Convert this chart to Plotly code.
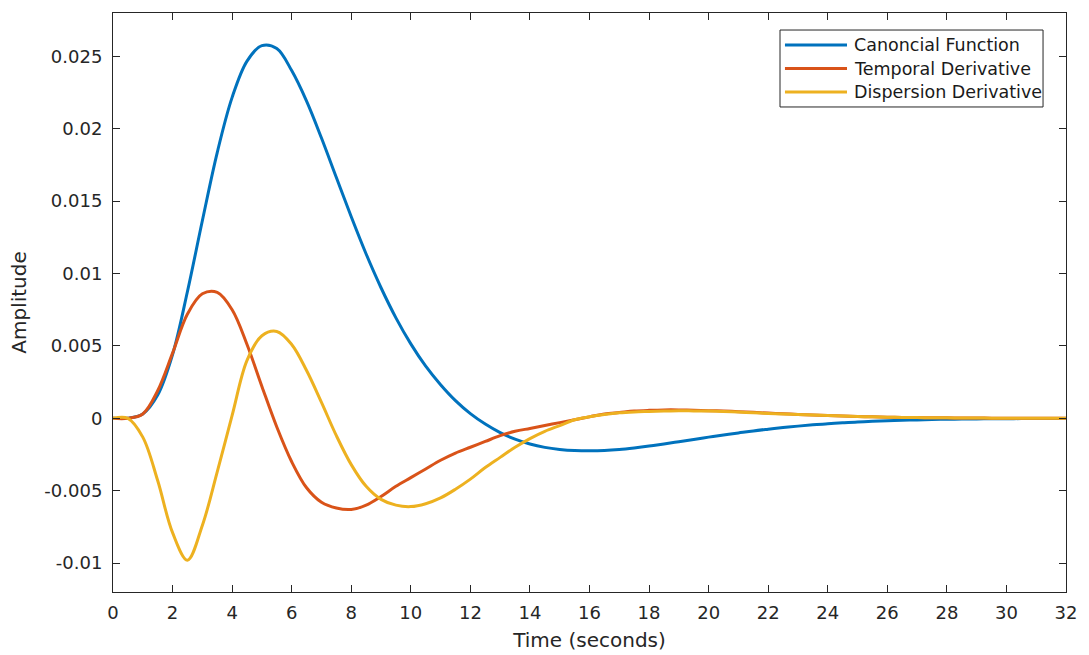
import plotly.graph_objects as go

# Time axis (seconds), sampled every 0.5 s
time_s = [i * 0.5 for i in range(65)]

canonical = [
    0.0, 0.00001, 0.00030, 0.00160, 0.00440, 0.00876, 0.01365, 0.01836, 0.02217, 0.02468,
    0.02575, 0.02555, 0.02402, 0.02191, 0.01936, 0.01663, 0.01392, 0.01135, 0.00902, 0.00694,
    0.00514, 0.00360, 0.00232, 0.00122, 0.00032, -0.00040, -0.00099, -0.00144, -0.00178, -0.00201,
    -0.00215, -0.00223, -0.00225, -0.00223, -0.00216, -0.00205, -0.00192, -0.00177, -0.00162, -0.00146,
    -0.00130, -0.00115, -0.00101, -0.00087, -0.00075, -0.00064, -0.00054, -0.00045, -0.00038, -0.00031,
    -0.00025, -0.00021, -0.00017, -0.00013, -0.00011, -0.00008, -0.00007, -0.00005, -0.00004, -0.00003,
    -0.00003, -0.00002, -0.00002, -0.00001, -0.00001,
]

temporal = [
    0.0, 0.0, 0.0003, 0.0019, 0.0045, 0.0072, 0.0086, 0.0087, 0.0075, 0.0051,
    0.0022, -0.0006, -0.0030, -0.0048, -0.0058, -0.0062, -0.0063, -0.0060, -0.0054, -0.0047,
    -0.0041, -0.0035, -0.0029, -0.0024, -0.0020, -0.0016, -0.0012, -0.0009, -0.0007, -0.0005,
    -0.0003, -0.0001, 0.0001, 0.0003, 0.0004, 0.0005, 0.00055, 0.00058, 0.00058, 0.00056,
    0.00053, 0.00050, 0.00046, 0.00041, 0.00036, 0.00032, 0.00027, 0.00023, 0.00019, 0.00016,
    0.00013, 0.00010, 0.00008, 0.00006, 0.00005, 0.00004, 0.00003, 0.00002, 0.00002, 0.00001,
    0.00001, 0.0, 0.0, 0.0, 0.0,
]

dispersion = [
    0.0, 0.0, -0.0013, -0.0043, -0.0079, -0.0098, -0.0074, -0.0037, 0.0002, 0.0040,
    0.0057, 0.0060, 0.0051, 0.0033, 0.0011, -0.0012, -0.0032, -0.0047, -0.0056, -0.0060,
    -0.0061, -0.0059, -0.0055, -0.0049, -0.0042, -0.0034, -0.0027, -0.0020, -0.0014, -0.0009,
    -0.0005, -0.0001, 0.0001, 0.00026, 0.00038, 0.00044, 0.00047, 0.00050, 0.00052, 0.00051,
    0.00050, 0.00047, 0.00043, 0.00038, 0.00034, 0.00030, 0.00026, 0.00022, 0.00019, 0.00016,
    0.00013, 0.00010, 0.00008, 0.00006, 0.00005, 0.00004, 0.00003, 0.00002, 0.00002, 0.00001,
    0.00001, 0.0, 0.0, 0.0, 0.0,
]

series_names = ["Canoncial Function", "Temporal Derivative", "Dispersion Derivative"]
series_colors = ["#0072BD", "#D95319", "#EDB120"]

x_ticks = list(range(0, 33, 2))
y_ticks = [-0.01, -0.005, 0, 0.005, 0.01, 0.015, 0.02, 0.025]
y_tick_text = ["-0.01", "-0.005", "0", "0.005", "0.01", "0.015", "0.02", "0.025"]

axis_color = "#262626"
font_family = "DejaVu Sans"

fig = go.Figure()
for name, color, values in zip(series_names, series_colors, [canonical, temporal, dispersion]):
    fig.add_trace(go.Scatter(
        x=time_s, y=values, mode="lines", name=name, showlegend=False,
        line=dict(color=color, width=3, shape="spline", smoothing=1.0),
    ))

# Boxed legend in the upper right corner (paper coordinates), with long line keys
box_x0, box_x1 = 0.6999, 0.9759
box_y0, box_y1 = 0.8377, 0.9706
row_y = [0.9447, 0.9041, 0.8636]
key_x0, key_x1, label_x = 0.7051, 0.7702, 0.7754

shapes = [dict(type="rect", xref="paper", yref="paper",
               x0=box_x0, x1=box_x1, y0=box_y0, y1=box_y1,
               line=dict(color=axis_color, width=1), fillcolor="white", layer="above")]
annotations = []
for name, color, yy in zip(series_names, series_colors, row_y):
    shapes.append(dict(type="line", xref="paper", yref="paper",
                       x0=key_x0, x1=key_x1, y0=yy, y1=yy,
                       line=dict(color=color, width=3), layer="above"))
    annotations.append(dict(xref="paper", yref="paper", x=label_x, y=yy,
                            xanchor="left", yanchor="middle", showarrow=False,
                            text=name, font=dict(family=font_family, size=17.5, color="#1a1a1a")))

fig.update_layout(
    width=1089, height=655,
    margin=dict(l=113, r=23, t=13, b=63),
    paper_bgcolor="white", plot_bgcolor="white",
    font=dict(family=font_family, size=18, color=axis_color),
    shapes=shapes, annotations=annotations,
    xaxis=dict(
        range=[0, 32], tickvals=x_ticks, ticktext=[str(v) for v in x_ticks],
        showgrid=False, zeroline=False, automargin=False,
        showline=True, linecolor=axis_color, linewidth=1, mirror="ticks",
        ticks="inside", ticklen=7, tickcolor=axis_color,
        tickfont=dict(size=18, color=axis_color), ticklabelstandoff=4,
        title=dict(text="Time (seconds)", font=dict(size=20, color=axis_color), standoff=11),
    ),
    yaxis=dict(
        range=[-0.012, 0.028], tickvals=y_ticks, ticktext=y_tick_text,
        showgrid=False, zeroline=False, automargin=False,
        showline=True, linecolor=axis_color, linewidth=1, mirror="ticks",
        ticks="inside", ticklen=7, tickcolor=axis_color,
        tickfont=dict(size=18, color=axis_color), ticklabelstandoff=6,
        title=dict(text="Amplitude", font=dict(size=20, color=axis_color), standoff=12),
    ),
)

fig.write_html("out.html")
